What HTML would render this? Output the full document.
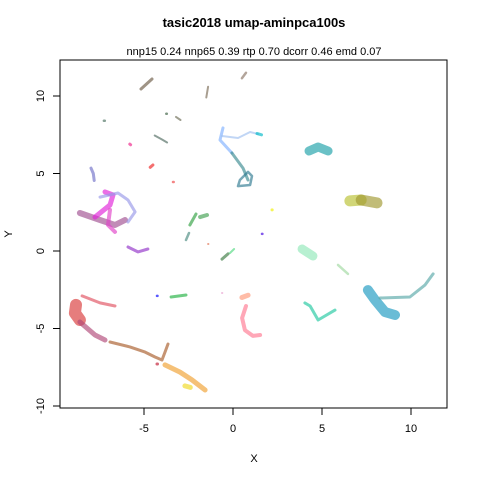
<!DOCTYPE html>
<html><head><meta charset="utf-8"><style>
html,body{margin:0;padding:0;background:#fff;}
svg text{font-family:"Liberation Sans",sans-serif;}
</style></head><body>
<svg id="chart" width="480" height="480" viewBox="0 0 480 480">
<rect width="480" height="480" fill="#fff"/>
<text x="254" y="27" text-anchor="middle" font-size="13" font-weight="bold">tasic2018 umap-aminpca100s</text>
<text x="254" y="55" text-anchor="middle" font-size="11">nnp15 0.24 nnp65 0.39 rtp 0.70 dcorr 0.46 emd 0.07</text>
<rect x="60" y="60" width="387" height="348" fill="none" stroke="#000" stroke-width="1"/>
<g id="marks"></g>
<g id="axes"></g>
<text x="254" y="462" text-anchor="middle" font-size="11">X</text>
<text x="12" y="234" text-anchor="middle" font-size="11" transform="rotate(-90 12 234)">Y</text>
</svg>
<script>
const xTicks=[-5,0,5,10];
const yTicks=[-10,-5,0,5,10];
const clusterColors=["#6b5a45","#8a7565","#7a6a55","#4a7060","#3a6040","#6b6b55","#4f6a60","#ee2288","#ee2222","#ee4444","#7070c8","#a04f90","#e020d8","#e040c8","#9898e8","#9030c8","#80b0ff","#3a8a90","#2e7a90","#a0c0f0","#00b8c8","#1aa0a8","#b8c030","#a09830","#f0f000","#4000e0","#30a040","#40a050","#4a8a80","#e07050","#3a7a40","#50d880","#90e8b8","#a0d8a0","#1898c0","#58a8a8","#20c8a0","#ff7890","#ff9878","#0000ff","#20b040","#e8a0d0","#d83838","#e05060","#b04878","#a85a28","#f0a030","#f0d820","#c01830"];
const clusterWidths=[3,2.5,2,2.5,2.5,2,2,3,3,2.5,3,6,5,4,3,3,3,3,2.5,2,3,9,11,11,3,2.5,3,4,2.5,2,3,2,9,2.5,10,3,3,4,5,2.5,3,2,12,3,5,3,5,5,3];
const clusterX=[[-5.17,-4.55],[0.5,0.73],[-1.5,-1.4],[-7.25,-7.2],[-3.75,-3.72],[-3.2,-2.95],[-4.4,-4.0,-3.7],[-5.8,-5.75],[-4.65,-4.5],[-3.37,-3.33],[-7.98,-7.85,-7.8],[-8.6,-7.47,-6.63,-6.07],[-7.75,-6.91,-6.74,-7.19],[-6.91,-7.02,-6.63],[-7.47,-6.46,-5.9,-5.5,-5.9],[-5.9,-5.34,-4.78],[-0.56,-0.73,-0.06],[-0.06,0.56,0.84],[0.84,0.39,0.28,0.96,1.07,0.84],[-0.62,0.28,0.96,1.4],[1.35,1.6],[4.27,4.78,5.34],[6.57,7.2],[7.2,8.09],[2.19,2.2],[1.63,1.65],[-2.42,-2.08],[-1.85,-1.46],[-2.64,-2.47],[-1.4,-1.38],[-0.62,-0.28],[-0.17,0.06],[3.88,4.49],[5.9,6.46],[7.58,7.98,8.54,9.1],[8.26,9.94,10.79,11.24],[4.04,4.33,4.78,5.73],[0.73,0.51,0.67,1.12,1.52],[0.5,0.85],[-4.27,-4.24],[-3.48,-2.64],[-0.62,-0.6],[-8.82,-8.88,-8.6],[-8.48,-7.47,-6.63],[-8.6,-7.75,-7.19],[-6.91,-5.79,-4.94,-4.38,-3.99,-3.82,-3.65],[-3.82,-2.98,-2.3,-1.57],[-2.7,-2.4],[-4.27,-4.24]];
const clusterY=[[10.45,11.1],[11.15,11.5],[9.9,10.6],[8.4,8.4],[8.85,8.85],[8.65,8.45],[7.45,7.2,7.0],[6.9,6.85],[5.4,5.55],[4.45,4.45],[5.35,5.0,4.55],[2.45,2.0,1.68,2.0],[2.19,2.97,3.61,3.81],[2.65,1.68,1.23],[3.48,3.74,3.29,2.52,1.87],[0.26,-0.06,0.13],[7.94,7.16,6.32],[6.32,5.35,4.58],[5.1,4.58,4.19,4.26,4.84,5.1],[7.42,7.29,7.68,7.55],[7.58,7.5],[6.45,6.71,6.45],[3.23,3.29],[3.29,3.1],[2.65,2.65],[1.1,1.1],[1.68,2.39],[2.19,2.32],[0.71,1.16],[0.45,0.45],[-0.52,-0.19],[-0.13,0.13],[0.13,-0.32],[-0.9,-1.48],[-2.52,-3.16,-3.94,-4.13],[-3.03,-2.97,-2.19,-1.48],[-3.35,-3.55,-4.45,-3.81],[-3.55,-4.32,-5.1,-5.48,-5.42],[-3.0,-2.85],[-2.9,-2.9],[-2.97,-2.84],[-2.71,-2.71],[-3.48,-4.0,-4.45],[-2.9,-3.35,-3.55],[-4.58,-5.42,-5.74],[-5.87,-6.19,-6.52,-6.84,-7.03,-6.52,-6.0],[-7.35,-7.81,-8.32,-8.97],[-8.7,-8.8],[-7.29,-7.29]];
const xs=v=>233+17.8*v;
const ys=v=>251-15.5*v;
const NS="http://www.w3.org/2000/svg";
const marks=document.getElementById('marks');
for(let i=0;i<clusterX.length;i++){
  const p=document.createElementNS(NS,'polyline');
  p.setAttribute('points',clusterX[i].map((x,j)=>xs(x).toFixed(1)+','+ys(clusterY[i][j]).toFixed(1)).join(' '));
  p.setAttribute('fill','none');
  p.setAttribute('stroke',clusterColors[i]);
  p.setAttribute('stroke-width',clusterWidths[i]);
  p.setAttribute('stroke-linecap','round');
  p.setAttribute('stroke-linejoin','round');
  p.setAttribute('opacity','0.65');
  
  
  marks.appendChild(p);
}
const axes=document.getElementById('axes');
function mk(tag,attrs,txt){const e=document.createElementNS(NS,tag);for(const k in attrs)e.setAttribute(k,attrs[k]);if(txt!==undefined)e.textContent=txt;axes.appendChild(e);return e;}
const xl=mk('line',{x1:xs(xTicks[0]),x2:xs(xTicks[xTicks.length-1]),y1:408,y2:408,stroke:'#000'});


xTicks.forEach(t=>{
  const l=mk('line',{x1:xs(t),x2:xs(t),y1:408,y2:415,stroke:'#000'});
  
  
  const tx=mk('text',{x:xs(t),y:432,'text-anchor':'middle','font-size':'11'},String(t));
  
  
});
const yl=mk('line',{x1:60,x2:60,y1:ys(yTicks[0]),y2:ys(yTicks[yTicks.length-1]),stroke:'#000'});


yTicks.forEach(t=>{
  const l=mk('line',{x1:53,x2:60,y1:ys(t),y2:ys(t),stroke:'#000'});
  
  
  const tx=mk('text',{x:44,y:ys(t),'text-anchor':'middle','font-size':'11',transform:'rotate(-90 44 '+ys(t)+')'},String(t));
  
  
});
</script>
</body></html>
